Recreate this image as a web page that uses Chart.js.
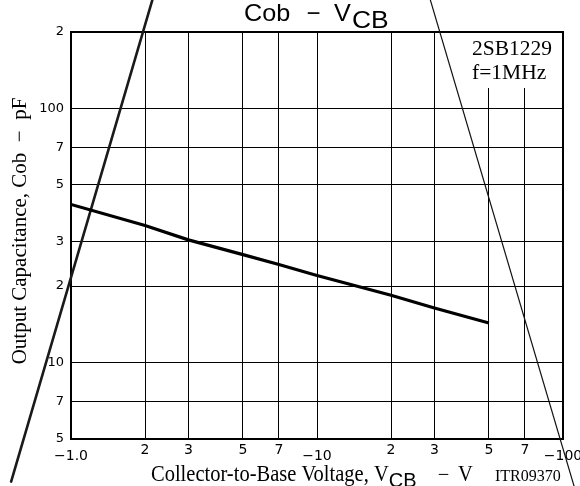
<!DOCTYPE html>
<html><head><meta charset="utf-8">
<script src="https://cdn.jsdelivr.net/npm/chart.js@4.4.1/dist/chart.umd.min.js"></script>
<style>html,body{margin:0;padding:0;background:#fff}canvas{display:block}</style>
</head><body>
<canvas id="c" width="580" height="486"></canvas>
<script>
// ---- data ----
const vcb = [1, 2, 3, 5, 7, 10, 20, 30, 50];
const cob = [41.9, 34.6, 30.4, 26.6, 24.3, 22.0, 18.4, 16.4, 14.3];
const xTickValues = [1, 2, 3, 5, 7, 10, 20, 30, 50, 70, 100];
const xTickLabels = ['\u22121.0', '2', '3', '5', '7', '\u221210', '2', '3', '5', '7', '\u2212100'];
const yTickValues = [5, 7, 10, 20, 30, 50, 70, 100, 200];
const yTickLabels = ['5', '7', '10', '2', '3', '5', '7', '100', '2'];
// stray diagonal strokes of the scanned sheet (data units)
const strokeAX = [2.169, 0.571];
const strokeAY = [278.9, 3.40];
const strokeBX = [28.52, 112.0];
const strokeBY = [278.9, 3.16];

const SERIF = '"Liberation Serif", "Times New Roman", serif';
const SANS = '"Liberation Sans", Arial, sans-serif';
const TICKF = '"DejaVu Sans", sans-serif';

function txt(ctx, s, x, y, font, sx, align, sy) {
  ctx.save();
  ctx.font = font;
  ctx.textBaseline = 'alphabetic';
  ctx.textAlign = align || 'left';
  ctx.translate(x, y);
  ctx.scale(sx || 1, sy || 1);
  ctx.fillText(s, 0, 0);
  const w = ctx.measureText(s).width * (sx || 1);
  ctx.restore();
  return w;
}

const decor = {
  id: 'decor',
  beforeDatasetsDraw(chart) {
    const ctx = chart.ctx;
    const a = chart.chartArea;
    ctx.save();
    // white box behind the part-number note
    ctx.fillStyle = '#fff';
    ctx.fillRect(466, a.top + 1, 91, 55);
    // frame
    ctx.strokeStyle = '#000';
    ctx.lineWidth = 2;
    ctx.strokeRect(a.left, a.top, a.right - a.left, a.bottom - a.top);
    ctx.fillStyle = '#000';
    // title
    txt(ctx, 'Cob', 244, 21, '24px ' + SANS, 1.05);
    txt(ctx, '\u2212', 313.5, 21, '24px ' + SANS, 1, 'center');
    txt(ctx, 'V', 334, 21, '24px ' + SANS, 1.05);
    txt(ctx, 'CB', 352, 28, '24px ' + SANS, 1.1);
    // note
    txt(ctx, '2SB1229', 472, 55, '21.5px ' + SERIF, 1);
    txt(ctx, 'f=1MHz', 472, 79, '21.5px ' + SERIF, 1);
    // x axis title
    let x = 151;
    x += txt(ctx, 'Collector-to-Base Voltage, V', x, 481, '20.5px ' + SERIF, 1, 'left', 1.08);
    txt(ctx, 'CB', x, 487, '20px ' + SANS, 1);
    txt(ctx, '\u2212', 443.5, 481, '20.5px ' + SERIF, 1, 'center');
    txt(ctx, 'V', 458, 481, '20.5px ' + SERIF, 1, 'left', 1.08);
    txt(ctx, 'ITR09370', 495, 481, '16px ' + SERIF, 1);
    // y axis title
    ctx.save();
    ctx.translate(25.5, 231);
    ctx.rotate(-Math.PI / 2);
    txt(ctx, 'Output Capacitance, Cob  \u2212  pF', 0, 0, '21px ' + SERIF, 1, 'center');
    ctx.restore();
    ctx.restore();
  }
};

const toXY = (xs, ys) => xs.map((v, i) => ({x: v, y: ys[i]}));

new Chart(document.getElementById('c'), {
  type: 'scatter',
  data: {
    datasets: [
      {data: toXY(vcb, cob), showLine: true, borderColor: '#000', borderWidth: 3.2, pointRadius: 0, tension: 0},
      {data: toXY(strokeAX, strokeAY), showLine: true, borderColor: '#1a1a1a', borderWidth: 2.6, pointRadius: 0, clip: false, borderCapStyle: 'round'},
      {data: toXY(strokeBX, strokeBY), showLine: true, borderColor: '#111', borderWidth: 1.2, pointRadius: 0, clip: false}
    ]
  },
  options: {
    responsive: false,
    animation: false,
    layout: {padding: {top: 32, right: 17, bottom: 0, left: 0}},
    plugins: {legend: {display: false}, tooltip: {enabled: false}, title: {display: false}},
    scales: {
      x: {
        type: 'logarithmic', min: 1, max: 100, position: 'bottom',
        afterBuildTicks: s => { s.ticks = xTickValues.map(v => ({value: v})); },
        afterFit: s => { s.height = 47; s.paddingLeft = 0; s.paddingRight = 0; },
        grid: {color: '#000', lineWidth: 1, drawTicks: false},
        border: {display: false},
        ticks: {
          autoSkip: false, maxRotation: 0, minRotation: 0, padding: 3, color: '#000',
          callback: (v, i) => xTickLabels[i],
          font: c => ({family: TICKF, size: 14, lineHeight: (xTickLabels[c.index] || '').startsWith('\u2212') ? 2.0 : 1.2})
        }
      },
      y: {
        type: 'logarithmic', min: 5, max: 200, position: 'left',
        afterBuildTicks: s => { s.ticks = yTickValues.map(v => ({value: v})); },
        afterFit: s => { s.width = 71; s.paddingTop = 0; s.paddingBottom = 0; },
        grid: {color: '#000', lineWidth: 1, drawTicks: false},
        border: {display: false},
        ticks: {
          autoSkip: false, padding: 7, color: '#000',
          callback: (v, i) => yTickLabels[i],
          font: {family: TICKF, size: 13}
        }
      }
    }
  },
  plugins: [decor]
});
</script>
</body></html>
